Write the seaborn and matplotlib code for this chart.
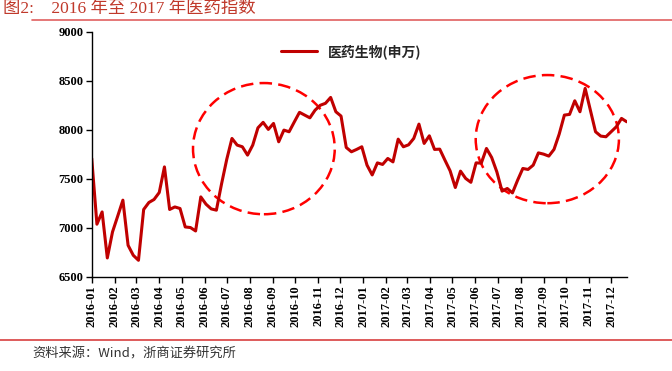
import matplotlib

matplotlib.use("Agg")
import matplotlib.dates as mdates
import matplotlib.pyplot as plt
import pandas as pd
import seaborn as sns
from matplotlib.lines import Line2D
from matplotlib.patches import Ellipse

# weekly index level
index_values = [
    7708, 7038, 7163, 6694, 6959, 7120, 7283, 6823, 6721, 6670,
    7188, 7259, 7290, 7361, 7622, 7188, 7214, 7198, 7010, 7004,
    6969, 7316, 7242, 7194, 7181, 7450, 7700, 7912, 7844, 7827,
    7742, 7844, 8020, 8076, 8004, 8065, 7878, 7997, 7980, 8080,
    8178, 8150, 8122, 8200, 8250, 8270, 8330, 8184, 8140, 7820,
    7776, 7800, 7827, 7640, 7540, 7663, 7647, 7708, 7673, 7905,
    7827, 7847, 7912, 8058, 7861, 7939, 7800, 7803, 7691, 7582,
    7412, 7579, 7504, 7465, 7663, 7660, 7810, 7718, 7571, 7375,
    7402, 7357, 7487, 7606, 7596, 7640, 7765, 7752, 7732, 7800,
    7956, 8150, 8157, 8296, 8184, 8422, 8201, 7980, 7936, 7929,
    7980, 8031, 8116, 8082,
]
series_name = "医药生物(申万)"
month_labels = [f"{y}-{m:02d}" for y in (2016, 2017) for m in range(1, 13)]
y_ticks = [6500, 7000, 7500, 8000, 8500, 9000]

# highlighted regions: (centre date, centre value, width days, height value)
highlights = [
    ("2016-08-20", 7808, 191, 1337),
    ("2017-09-06", 7905, 193, 1306),
]

dates = pd.date_range("2016-01-01", periods=len(index_values), freq="7D")
df = pd.DataFrame({"date": dates, "value": index_values})

sns.set_style("ticks")
plt.rcParams["font.family"] = ["Liberation Serif", "Noto Sans CJK SC"]

fig = plt.figure(figsize=(6.72, 3.71), dpi=100)
ax = fig.add_axes([0.1365, 0.2534, 0.7961, 0.6612])

sns.lineplot(data=df, x="date", y="value", ax=ax, color="#C00000", linewidth=2.2)

for centre, val, w, h in highlights:
    ax.add_patch(Ellipse((mdates.date2num(pd.Timestamp(centre)), val), w, h,
                         fill=False, edgecolor="#FF0000", linewidth=1.8,
                         linestyle=(0, (5, 2.5))))

ax.set_xlim(dates[0], dates[-1])
ax.set_ylim(6500, 9000)
ax.set_yticks(y_ticks)
ax.set_yticklabels([str(t) for t in y_ticks], fontsize=9, fontweight="bold")
ax.set_xticks(pd.date_range("2016-01-01", periods=24, freq="MS"))
ax.set_xticklabels(month_labels, rotation=90, fontsize=9, fontweight="bold")
ax.set_xlabel("")
ax.set_ylabel("")
ax.tick_params(direction="out", length=4, width=1, colors="black", pad=2)
for side in ["top", "right"]:
    ax.spines[side].set_visible(False)
for side in ["left", "bottom"]:
    ax.spines[side].set_color("black")
    ax.spines[side].set_linewidth(1)

handle = Line2D([], [], color="#C00000", linewidth=2.2)
ax.legend([handle], [series_name], loc="upper center", bbox_to_anchor=(0.485, 1.0),
          frameon=False, handlelength=2.6,
          prop={"family": ["Noto Sans CJK SC"], "weight": "bold", "size": 10})

fig.text(0.005, 0.966, "图2:    2016 年至 2017 年医药指数", color="#C0392B",
         fontsize=12.5, va="baseline", ha="left", family=["Liberation Serif", "Noto Sans CJK SC"])
fig.add_artist(Line2D([0.048, 1.0], [0.947, 0.947], color="#E06060", linewidth=1.2))
fig.add_artist(Line2D([0.0, 1.0], [0.083, 0.083], color="#D84040", linewidth=1.2))
fig.text(0.048, 0.045, "资料来源：Wind，浙商证券研究所", color="#333333",
         fontsize=9.5, va="center", ha="left", family=["Noto Sans CJK SC"])

fig.savefig("out.png", dpi=100)
